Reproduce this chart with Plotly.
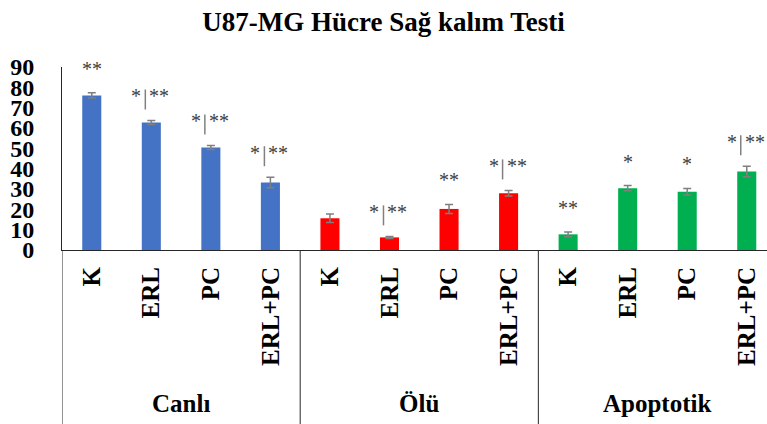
import plotly.graph_objects as go

groups = ["Canlı", "Ölü", "Apoptotik"]
treatments = ["K", "ERL", "PC", "ERL+PC"]
canli = [76.0, 62.7, 50.4, 33.2]
canli_err = [1.3, 1.0, 1.0, 2.6]
olu = [15.6, 6.2, 20.2, 27.9]
olu_err = [2.1, 0.5, 2.2, 1.4]
apoptotik = [7.7, 30.4, 28.7, 38.6]
apoptotik_err = [1.2, 1.3, 1.6, 2.6]
signif = ["**", "*|**", "*|**", "*|**",
          "", "*|**", "**", "*|**",
          "**", "*", "*", "*|**"]
colors = ["#4472C4", "#FF0000", "#00B050"]
y_ticks = [0, 10, 20, 30, 40, 50, 60, 70, 80, 90]

SERIF = "Liberation Serif, Times New Roman, serif"

fig = go.Figure()
values_all = []
err_all = []
for gi, (vals, errs) in enumerate([(canli, canli_err), (olu, olu_err), (apoptotik, apoptotik_err)]):
    xs = [gi * 4 + i for i in range(4)]
    fig.add_trace(go.Bar(
        x=xs, y=vals, width=0.32,
        marker=dict(color=colors[gi], line=dict(width=0)),
        error_y=dict(type="data", array=errs, visible=True, color="#7f7f7f", thickness=1.5, width=4),
        showlegend=False, name=groups[gi],
    ))
    values_all += vals
    err_all += errs

ticktext = treatments * 3
tickvals = list(range(12))

STAR_FONT = dict(family=SERIF, size=20, color="#404040")
annotations = []
shapes = []
for i, s in enumerate(signif):
    if not s:
        continue
    top = values_all[i] + err_all[i]
    if "|" in s:
        left, right = s.split("|")
        annotations.append(dict(x=i, y=top, xref="x", yref="y", text=left, showarrow=False,
                                xanchor="right", yanchor="middle", xshift=-8, yshift=24,
                                font=STAR_FONT))
        annotations.append(dict(x=i, y=top, xref="x", yref="y", text=right, showarrow=False,
                                xanchor="left", yanchor="middle", xshift=-4, yshift=24,
                                font=STAR_FONT))
        shapes.append(dict(type="line", xref="x", yref="y", xsizemode="pixel", ysizemode="pixel",
                           xanchor=i, yanchor=top, x0=-6, x1=-6, y0=11, y1=31,
                           line=dict(color="#808080", width=1.5)))
    else:
        annotations.append(dict(x=i, y=top, xref="x", yref="y", text=s, showarrow=False,
                                xanchor="center", yanchor="middle", yshift=24,
                                font=STAR_FONT))

# group labels and dividers
for gi, g in enumerate(groups):
    annotations.append(dict(x=gi * 4 + 1.5, y=-0.84, xref="x", yref="paper", text="<b>%s</b>" % g,
                            showarrow=False, xanchor="center", yanchor="middle",
                            font=dict(family=SERIF, size=25, color="black")))
for xb in [-0.5, 3.5, 7.5]:
    shapes.append(dict(type="line", xref="x", yref="paper", x0=xb, x1=xb, y0=0, y1=-0.97,
                       line=dict(color="#262626", width=1)))

fig.update_layout(
    width=767, height=424,
    margin=dict(l=62, r=0, t=67, b=174, autoexpand=False),
    paper_bgcolor="white", plot_bgcolor="white",
    title=dict(text="<b>U87-MG Hücre Sağ kalım Testi</b>", x=0.5, xanchor="center",
               y=1 - 22 / 424, yanchor="middle", yref="container",
               font=dict(family=SERIF, size=27, color="black")),
    xaxis=dict(range=[-0.5, 11.34], tickvals=tickvals, ticktext=["<b>%s</b>" % t for t in ticktext],
               tickangle=-90, showline=True, linecolor="#262626", linewidth=1, automargin=False,
               showgrid=False, zeroline=False, ticks="", ticklabelstandoff=6,
               tickfont=dict(family=SERIF, size=25, color="black")),
    yaxis=dict(range=[0, 90], tickvals=y_ticks, ticktext=["<b>%d</b>" % v for v in y_ticks],
               showline=True, linecolor="#262626", linewidth=1, showgrid=False, zeroline=False,
               ticks="", ticklabelstandoff=22, automargin=False,
               tickfont=dict(family=SERIF, size=24, color="black")),
    annotations=annotations, shapes=shapes,
)

fig.write_html("out.html", config={"displayModeBar": False},
               post_script="document.body.style.margin='0';")
